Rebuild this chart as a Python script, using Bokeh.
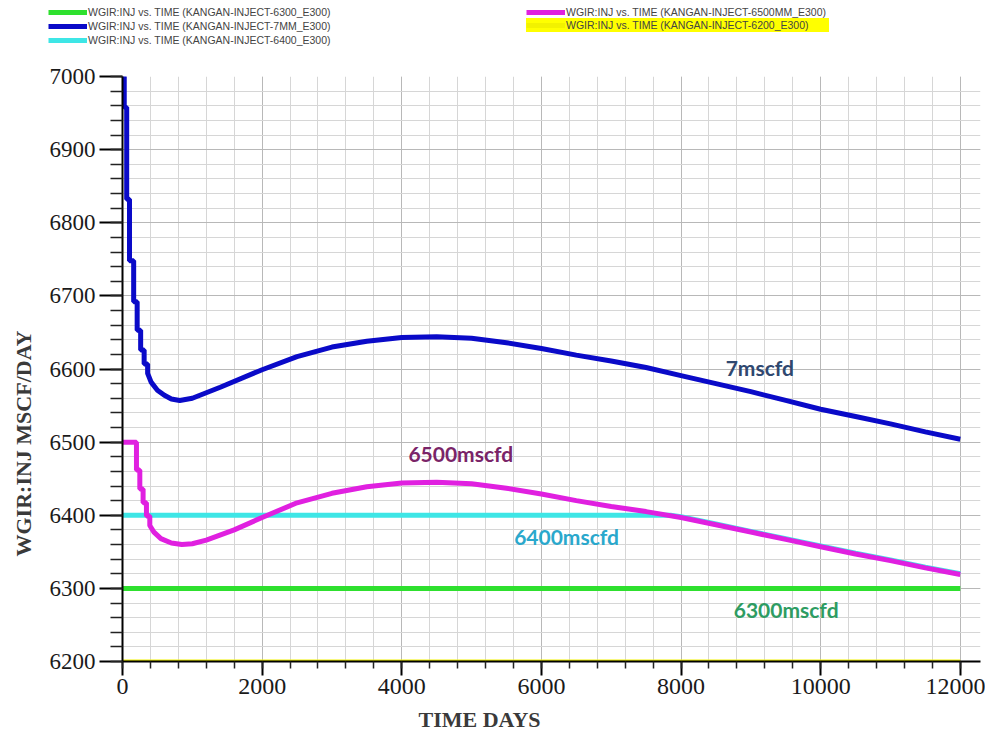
import math
from bokeh.plotting import figure
from bokeh.layouts import column
from bokeh.models import (Range1d, SingleIntervalTicker, Legend, LegendItem, Title,
                          ColumnDataSource)
from bokeh.core.properties import value
from bokeh.embed import file_html
from bokeh.resources import INLINE

# ---------------- data ----------------
series_names = [
    "WGIR:INJ vs. TIME (KANGAN-INJECT-6300_E300)",
    "WGIR:INJ vs. TIME (KANGAN-INJECT-7MM_E300)",
    "WGIR:INJ vs. TIME (KANGAN-INJECT-6400_E300)",
    "WGIR:INJ vs. TIME (KANGAN-INJECT-6500MM_E300)",
    "WGIR:INJ vs. TIME (KANGAN-INJECT-6200_E300)",
]
series_colors = ["#2ee02e", "#0a0ac8", "#3ee6e6", "#e020e0", "#f2f200"]

t_7mm = [0, 25, 25, 60, 60, 100, 100, 160, 160, 210, 210, 260, 260, 310, 310, 360, 360, 410,
         500, 600, 700, 820, 1000, 1400, 2000, 2500, 3000, 3500, 4000, 4500, 5000, 5500,
         6000, 6500, 7000, 7500, 8000, 8500, 9000, 9500, 10000, 10500, 11000, 11500, 12000]
q_7mm = [7000, 7000, 6958, 6958, 6832, 6832, 6748, 6748, 6692, 6692, 6653, 6653, 6626, 6626,
         6607, 6607, 6594, 6582,
         6571, 6564, 6559, 6557, 6560, 6575, 6599, 6617, 6630, 6638, 6643, 6644, 6642, 6636,
         6628, 6619, 6611, 6602, 6591, 6580, 6569, 6557, 6545, 6535, 6525, 6514, 6504]

t_6500 = [0, 200, 200, 248, 248, 295, 295, 343, 343, 391, 391,
          450, 550, 700, 850, 1000, 1200, 1600, 2000, 2500, 3000, 3500, 4000, 4500, 5000,
          5500, 6000, 6500, 7000, 7500, 8000, 8500, 9000, 9500, 10000, 10500, 11000, 11500, 12000]
q_6500 = [6500, 6500, 6462, 6462, 6436, 6436, 6417, 6417, 6399, 6399, 6386,
          6377, 6368, 6362, 6360, 6361, 6366, 6380, 6397, 6417, 6430, 6439, 6444, 6445, 6443,
          6437, 6429, 6420, 6412, 6405, 6397, 6387, 6377, 6367, 6357, 6347, 6338, 6328, 6319]

t_6400 = [0, 7850, 8000, 8500, 9000, 9500, 10000, 10500, 11000, 11500, 12000]
q_6400 = [6400, 6400, 6398, 6388, 6378, 6368, 6358, 6348, 6339, 6329, 6320]

t_6300 = [0, 12000]
q_6300 = [6300, 6300]

t_6200 = [0, 12000]
q_6200 = [6200, 6200]

series_t = [t_6300, t_7mm, t_6400, t_6500, t_6200]
series_q = [q_6300, q_7mm, q_6400, q_6500, q_6200]

note_texts = ["7mscfd", "6500mscfd", "6400mscfd", "6300mscfd"]
note_x = [8640, 4095, 5610, 8755]
note_y = [6602, 6485, 6371, 6271]
note_colors = ["#2f4870", "#7a2468", "#2aa8cc", "#2e9c62"]

x_ticks_interval = 2000
y_ticks_interval = 100

# ---------------- main figure ----------------
p = figure(width=985, height=680, output_backend="svg", toolbar_location=None,
           x_range=Range1d(0, 12290), y_range=Range1d(6200, 7000),
           min_border_left=121, min_border_right=5, min_border_top=16, min_border_bottom=78)
p.outline_line_color = None
p.background_fill_color = "white"
p.border_fill_color = "white"
p.frame_align = False

for ax, iv in ((p.xaxis[0], x_ticks_interval), (p.yaxis[0], y_ticks_interval)):
    ax.ticker = SingleIntervalTicker(interval=iv, num_minor_ticks=5)
    ax.axis_line_color = "black"
    ax.axis_line_width = 2
    ax.major_tick_line_color = "black"
    ax.major_tick_line_width = 2
    ax.minor_tick_line_color = "#222222"
    ax.minor_tick_line_width = 1.5
    ax.major_tick_in = 0
    ax.minor_tick_in = 0
    ax.major_label_text_font = "Liberation Serif"
    ax.major_label_text_color = "#1a1a1a"

p.yaxis.major_tick_out = 23
p.yaxis.minor_tick_out = 12
p.yaxis.major_label_standoff = 4
p.yaxis.major_label_text_font_size = "23px"
p.xaxis.major_tick_out = 14
p.xaxis.minor_tick_out = 7
p.xaxis.major_label_standoff = 3
p.xaxis.major_label_text_font_size = "24px"

for g in (p.xgrid[0], p.ygrid[0]):
    g.grid_line_color = "#b8b8b8"
    g.grid_line_width = 1
    g.minor_grid_line_color = "#d6d6d6"
    g.minor_grid_line_width = 1

line_widths = [5, 5, 5, 5, 4]
for i in (4, 0, 2, 3, 1):
    p.line(series_t[i], series_q[i], line_color=series_colors[i], line_width=line_widths[i])

src = ColumnDataSource(dict(x=note_x, y=note_y, text=note_texts, color=note_colors))
p.text(x="x", y="y", text="text", text_color="color", source=src,
       text_font=value("Lato"), text_font_style="bold", text_font_size="21px",
       text_align="left", text_baseline="middle")

# axis titles as side-panel titles (offset to match the reference placement)
p.add_layout(Title(text="TIME  DAYS", align="left", offset=296, standoff=17,
                   vertical_align="bottom",
                   text_font="Liberation Serif", text_font_style="bold",
                   text_font_size="22px", text_color="#3a3a3a"), "below")
p.add_layout(Title(text="WGIR:INJ  MSCF/DAY", align="left", offset=105, standoff=19,
                   vertical_align="middle",
                   text_font="Liberation Serif", text_font_style="bold",
                   text_font_size="22px", text_color="#3a3a3a"), "left")

# ---------------- legend strip ----------------
lg_fig = figure(width=985, height=60, output_backend="svg", toolbar_location=None,
                x_range=Range1d(0, 985), y_range=Range1d(0, 60),
                x_axis_location=None, y_axis_location=None, min_border=0)
lg_fig.outline_line_color = None
lg_fig.xgrid.visible = False
lg_fig.ygrid.visible = False
lg_fig.border_fill_color = "white"
lg_fig.frame_align = False

# key renderers carry the series data (which lies outside this strip's ranges)
key_renderers = [lg_fig.line(series_t[i], series_q[i], line_color=series_colors[i], line_width=5)
                 for i in range(5)]

def mk_legend(idx, loc, bg=None, label_width=20):
    items = [LegendItem(label=series_names[i], renderers=[key_renderers[i]]) for i in idx]
    lg = Legend(items=items, location=loc, orientation="vertical",
                glyph_width=39, glyph_height=14, label_height=14, label_standoff=1,
                label_width=label_width, spacing=0, padding=0, margin=0,
                label_text_font="Liberation Sans", label_text_font_size="10.5px",
                label_text_color="#444444", border_line_color=None)
    if bg is None:
        lg.background_fill_alpha = 0
    else:
        lg.background_fill_color = bg
        lg.background_fill_alpha = 1
    return lg

for lg in (mk_legend([0, 1, 2], (48, 13)),
           mk_legend([3], (526, 41)),
           mk_legend([4], (526, 28), bg="#ffff00", label_width=263)):
    lg_fig.add_layout(lg, "center")

layout = column(lg_fig, p, spacing=0)
open("out.html", "w").write(file_html(layout, INLINE))
